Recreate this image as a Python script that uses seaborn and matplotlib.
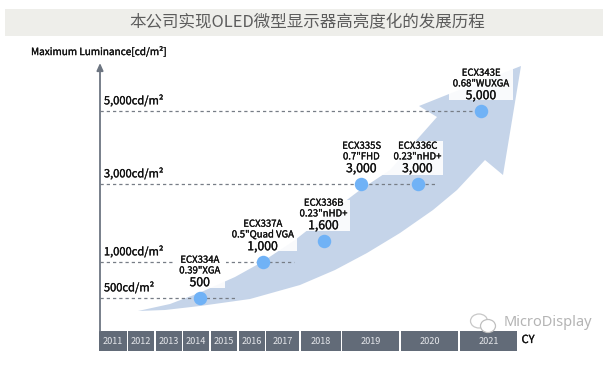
import numpy as np
import pandas as pd
import matplotlib.pyplot as plt
import matplotlib.patheffects as pe
import seaborn as sns
from matplotlib.patches import Polygon, Rectangle, Ellipse

models = ['ECX334A', 'ECX337A', 'ECX336B', 'ECX335S', 'ECX336C', 'ECX343E']
specs = ['0.39"XGA', '0.5"Quad VGA', '0.23"nHD+', '0.7"FHD', '0.23"nHD+', '0.68"WUXGA']
luminance = [500, 1000, 1600, 3000, 3000, 5000]
when = [2014.6, 2016.88, 2018.55, 2019.33, 2020.28, 2021.37]
years = [2011, 2012, 2013, 2014, 2015, 2016, 2017, 2018, 2019, 2020, 2021]
levels = [500, 1000, 3000, 5000]
level_labels = ['500cd/m²', '1,000cd/m²', '3,000cd/m²', '5,000cd/m²']
level_ends = [2015.85, 2017.8, 2020.58, 2021.25]

# layout in picture pixels
W, H = 603, 368
cell_left = [99, 128, 156, 183, 211, 239, 266, 301, 342, 401, 460]
cell_right = [126.5, 154, 182, 209, 237, 265, 299, 341, 399, 458, 517]
lum_knots = [0, 500, 1000, 1600, 3000, 5000, 6000]
lum_px = [330, 298, 262, 241, 184, 111, 65]
year_knots = years + [2022]
year_px = cell_left + [517]

TEXT_FONT = ['Noto Sans CJK SC', 'DejaVu Sans']
DARK = '#111111'
GREY = '#626b78'
# the original labels are a bit heavier than the regular weight
HEAVY = [pe.withStroke(linewidth=0.2, foreground=DARK)]

sns.set_theme(style='white')
plt.rcParams['font.family'] = TEXT_FONT

fig = plt.figure(figsize=(W / 100, H / 100), dpi=100)

# background layer, in pixels
bg = fig.add_axes([0, 0, 1, 1])
bg.set_xlim(0, W)
bg.set_ylim(H, 0)
bg.axis('off')

bg.add_patch(Rectangle((5, 9), 598, 27, color='#eeeeea', lw=0))
bg.text(307.5, 22, '本公司实现OLED微型显示器高亮度化的发展历程', fontsize=11.9,
        color='#5c5c5c', ha='center', va='center')
bg.text(31, 52, 'Maximum Luminance[cd/m²]', fontsize=7.2, color=DARK,
        ha='left', va='center', path_effects=HEAVY)

arrow = [(138, 311), (170, 304), (199, 293), (235, 277), (262, 262), (295, 240),
         (323, 218), (360, 190), (390, 170), (437, 117), (419, 106), (449, 94),
         (521, 66), (503, 175), (485, 160), (457, 190), (433, 210), (400, 233),
         (367, 253), (335, 270), (300, 285), (250, 299), (200, 306), (165, 310)]
bg.add_patch(Polygon(arrow, closed=True, color='#c5d4e9', lw=0))

boxes = [(175, 255, 50, 33), (230, 218, 67, 33), (300, 200, 50, 31),
         (340, 141, 51, 34), (391, 141, 52, 34), (449, 67, 64, 33)]
for x0, y0, w0, h0 in boxes:
    bg.add_patch(Rectangle((x0, y0), w0, h0, color='white', alpha=0.9, lw=0))

bg.annotate('', xy=(100, 63), xytext=(100, 331),
            arrowprops=dict(arrowstyle='-|>,head_width=0.16,head_length=0.36',
                            color='#6d7581', lw=1.3, shrinkA=0, shrinkB=0))

for year, left, right in zip(years, cell_left, cell_right):
    bg.add_patch(Rectangle((left, 331), right - left, 19.5, color=GREY, lw=0))
    bg.text((left + right) / 2, 341, str(year), fontsize=6.6, color='#e4e6ea',
            ha='center', va='center')
bg.text(528, 340, 'CY', fontsize=8, color=DARK, ha='center', va='center',
        path_effects=HEAVY)

# wechat style watermark
bg.add_patch(Ellipse((479, 321), 17, 14, fc='none', ec='#c8c8c8', lw=0.9))
bg.add_patch(Ellipse((488, 326), 15, 13, fc='white', ec='#c0c0c0', lw=0.9, zorder=3))
bg.text(548, 323, 'MicroDisplay', fontsize=10.5, color='#b4b4b4', ha='center',
        va='center', family=['Noto Sans', 'DejaVu Sans'], zorder=3)

# data layer, real scales for years and luminance
ax = fig.add_axes([99 / W, (H - 330) / H, (517 - 99) / W, (330 - 65) / H])
ax.patch.set_alpha(0)
ax.set_xscale('function', functions=(
    lambda v: np.interp(v, year_knots, year_px),
    lambda p: np.interp(p, year_px, year_knots)))
neg_px = [-p for p in lum_px]
ax.set_yscale('function', functions=(
    lambda v: np.interp(v, lum_knots, neg_px),
    lambda p: np.interp(p, neg_px, lum_knots)))
ax.set_xlim(2011, 2022)
ax.set_ylim(0, 6000)

for level, label, end in zip(levels, level_labels, level_ends):
    ax.plot([2011.05, end], [level, level], color='#777d86', lw=0.9,
            dashes=(2.6, 2.4), zorder=1)
    ax.annotate(label, (2011.05, level), xytext=(2.5, 7.5), textcoords='offset points',
                fontsize=8, color=DARK, ha='left', va='center', path_effects=HEAVY)

# the 2014 label box hides the 1000 line
ax.add_patch(Rectangle((2013.63, 900), 1.89, 200, color='white', lw=0, zorder=1.5))

df = pd.DataFrame({'when': when, 'luminance': luminance})
sns.scatterplot(data=df, x='when', y='luminance', s=94, color='#70b2f6',
                linewidth=0, zorder=3, ax=ax)
ax.set_xlabel('')
ax.set_ylabel('')
ax.set_xticks([])
ax.set_yticks([])
ax.minorticks_off()
for side in ax.spines.values():
    side.set_visible(False)

for x, y, name, spec in zip(when, luminance, models, specs):
    top = {'fontsize': 6.9, 'color': DARK, 'ha': 'center', 'va': 'center',
           'textcoords': 'offset points', 'zorder': 4, 'path_effects': HEAVY}
    ax.annotate(name, (x, y), xytext=(0, 27.2), **top)
    ax.annotate(spec, (x, y), xytext=(0, 19.5), **top)
    ax.annotate(f'{y:,}', (x, y), xytext=(0, 11), fontsize=8.8, color=DARK, ha='center',
                va='center', textcoords='offset points', zorder=4, path_effects=HEAVY)

fig.savefig('out.png', dpi=100)
